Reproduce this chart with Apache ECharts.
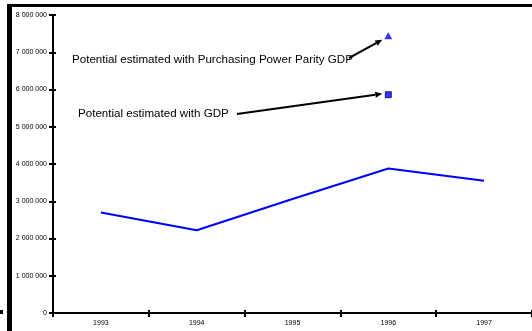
<!DOCTYPE html>
<html><head><meta charset="utf-8">
<script src="https://cdn.jsdelivr.net/npm/echarts@6/dist/echarts.min.js"></script>
<style>html,body{margin:0;padding:0;background:#fff}#c{width:532px;height:331px}</style>
</head><body><div id="c"></div>
<script>
var years = ['1993','1994','1995','1996','1997'];
var potential = [2700000, 2220000, 3060000, 3880000, 3550000];
var pppPoint = ['1996', 7440000];
var gdpPoint = ['1996', 5860000];
var labelPPP = 'Potential estimated with Purchasing Power Parity GDP';
var labelGDP = 'Potential estimated with GDP';

var chart = echarts.init(document.getElementById('c'), null, {renderer:'canvas'});
function fmt(v){ return String(v).replace(/\B(?=(\d{3})+(?!\d))/g, ' '); }
var axisLine = {lineStyle:{color:'#000', width:2}};
chart.setOption({
  animation:false,
  grid:{left:53, top:15, width:480, height:298},
  xAxis:[
    {type:'category', data:years, boundaryGap:true, axisLine:axisLine,
     axisTick:{show:true, length:4, lineStyle:{color:'#000', width:2}},
     axisLabel:{fontSize:7, color:'#000', fontFamily:'Liberation Sans', margin:7}},
    {type:'category', data:years, boundaryGap:true, position:'bottom', axisLine:{show:false},
     axisTick:{show:true, inside:true, length:3, lineStyle:{color:'#000', width:2}},
     axisLabel:{show:false}}
  ],
  yAxis:[
    {type:'value', min:0, max:8000000, interval:1000000, splitLine:{show:false},
     axisLine:{show:true, lineStyle:{color:'#000', width:2}},
     axisTick:{show:true, length:4, lineStyle:{color:'#000', width:2}},
     axisLabel:{fontSize:7, color:'#000', fontFamily:'Liberation Sans', margin:6, formatter:fmt}},
    {type:'value', min:0, max:8000000, interval:1000000, position:'left', splitLine:{show:false},
     axisLine:{show:false},
     axisTick:{show:true, inside:true, length:3, lineStyle:{color:'#000', width:2}},
     axisLabel:{show:false}}
  ],
  series:[
    {type:'line', data:potential, symbol:'none', lineStyle:{color:'#0000ff', width:2}},
    {type:'scatter', data:[pppPoint], symbol:'triangle', symbolSize:[8,7], itemStyle:{color:'#0000ff'}},
    {type:'scatter', data:[gdpPoint], symbol:'rect', symbolSize:6, itemStyle:{color:'#0000ff', borderColor:'#000080', borderWidth:1}}
  ]
});

function arrow(x1,y1,x2,y2){
  var a = Math.atan2(y2-y1, x2-x1), L = 7, W = 3;
  var bx = x2 - L*Math.cos(a), by = y2 - L*Math.sin(a);
  var px = -Math.sin(a)*W, py = Math.cos(a)*W;
  return [
    {type:'line', shape:{x1:x1,y1:y1,x2:bx,y2:by}, style:{stroke:'#000', lineWidth:2}},
    {type:'polygon', shape:{points:[[x2,y2],[bx+px,by+py],[bx-px,by-py]]}, style:{fill:'#000'}}
  ];
}
var pP = chart.convertToPixel({seriesIndex:1}, pppPoint);
var pG = chart.convertToPixel({seriesIndex:2}, gdpPoint);
var g = [
  {type:'rect', shape:{x:7, y:4, width:5, height:327}, style:{fill:'#000'}},
  {type:'rect', shape:{x:7, y:4, width:525, height:3}, style:{fill:'#000'}},
  {type:'rect', shape:{x:0, y:310, width:3, height:4}, style:{fill:'#000'}},
  {type:'text', x:72, y:60, style:{text:labelPPP, font:'11.6px "Liberation Sans", Arial', fill:'#000', textVerticalAlign:'middle'}},
  {type:'text', x:78, y:114, style:{text:labelGDP, font:'11.6px "Liberation Sans", Arial', fill:'#000', textVerticalAlign:'middle'}}
];
g = g.concat(arrow(349, 58, pP[0]-6, pP[1]+4));
g = g.concat(arrow(237, 114, pG[0]-6, pG[1]-1));
chart.setOption({graphic:g});
</script></body></html>
